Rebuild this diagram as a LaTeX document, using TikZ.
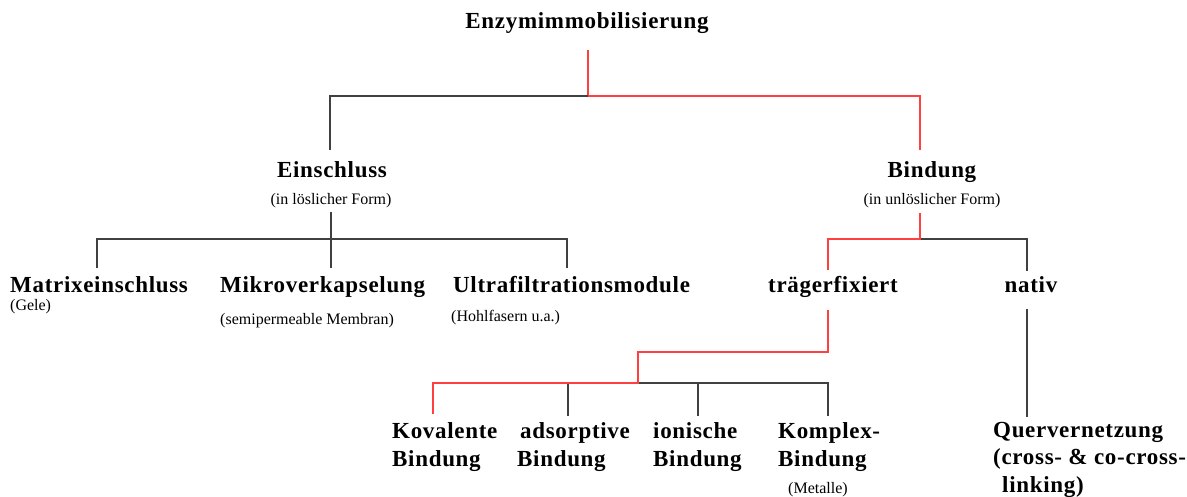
\documentclass[tikz,border=0pt]{standalone}
\usepackage{fontspec}
\setmainfont{Liberation Serif}
\newfontfamily\lblfont[LetterSpace=3]{Liberation Serif}
\usepackage{xcolor}
\usepackage{tikz}

\definecolor{linered}{HTML}{FF4040}
\definecolor{linegray}{HTML}{404040}

\tikzset{
    lbl/.style={inner sep=0pt, font=\lblfont\bfseries\fontsize{23}{27.5}\selectfont},
    sub/.style={inner sep=0pt, font=\fontsize{16}{18}\selectfont},
    rline/.style={draw=linered, line width=1.3pt},
    bline/.style={draw=linegray, line width=1.3pt}
}

\begin{document}
\begin{tikzpicture}[x=1pt, y=-1pt]
    \useasboundingbox[fill=white] (0,0) rectangle (1187,497);

    \node[lbl, anchor=base] (root) at (587,29) {Enzymimmobilisierung};

    \node[lbl, anchor=base] (ein) at (332,178) {Einschluss};
    \node[sub, anchor=base] (ein-s) at (331,205) {(in löslicher Form)};
    \node[lbl, anchor=base] (bin) at (932,178) {Bindung};
    \node[sub, anchor=base] (bin-s) at (932,205) {(in unlöslicher Form)};

    \node[lbl, anchor=base west] (mat) at (10,293) {Matrixeinschluss};
    \node[sub, anchor=base west] (mat-s) at (10,311) {(Gele)};
    \node[lbl, anchor=base west] (mik) at (220,293) {Mikroverkapselung};
    \node[sub, anchor=base west] (mik-s) at (220,325) {(semipermeable Membran)};
    \node[lbl, anchor=base west] (ult) at (453,293) {Ultrafiltrationsmodule};
    \node[sub, anchor=base west] (ult-s) at (451,322) {(Hohlfasern u.a.)};
    \node[lbl, anchor=base] (trae) at (833,293) {trägerfixiert};
    \node[lbl, anchor=base] (nat) at (1031,293) {nativ};

    % multi-line labels sit on their last baseline
    \node[lbl, anchor=base west, align=left] (kov) at (392,466) {Kovalente\\Bindung};
    \node[lbl, anchor=base west, align=left] (ads) at (517,466) {\hspace*{3pt}adsorptive\\Bindung};
    \node[lbl, anchor=base west, align=left] (ion) at (653,466) {ionische\\Bindung};
    \node[lbl, anchor=base west, align=left] (kom) at (778,466) {Komplex-\\Bindung};
    \node[sub, anchor=base] (kom-s) at (818,493) {(Metalle)};
    \node[lbl, anchor=base west, align=left] (que) at (993,492) {Quervernetzung\\(cross- \& co-cross-\\\hspace*{9pt}linking)};

    % first level
    \coordinate (top) at (588,50);
    \coordinate (j0) at (588,96);
    \coordinate (e0) at (330,150);
    \coordinate (b0) at (920,150);
    \draw[rline] (top) -- (j0);
    \draw[bline] (j0) -| (e0);
    \draw[rline] (j0) -| (b0);

    % Einschluss
    \coordinate (e1) at (331,212);
    \coordinate (j1) at (331,239);
    \coordinate (mat0) at (97,268);
    \coordinate (mik0) at (331,268);
    \coordinate (ult0) at (567,268);
    \draw[bline] (e1) -- (mik0);
    \draw[bline] (mat0) -- (mat0 |- j1) -- (ult0 |- j1) -- (ult0);

    % Bindung
    \coordinate (b1) at (920,213);
    \coordinate (j2) at (920,239);
    \coordinate (tr0) at (828,270);
    \coordinate (na0) at (1027,271);
    \draw[bline] (j2) -| (na0);
    \draw[rline] (b1) -- (j2) -| (tr0);

    % traegerfixiert
    \coordinate (tr1) at (828,310);
    \coordinate (j3) at (638,352);
    \coordinate (j4) at (638,383);
    \coordinate (kov0) at (433,414);
    \coordinate (ads0) at (568,416);
    \coordinate (ion0) at (698,416);
    \coordinate (kom0) at (828,416);
    \draw[bline] (j4) -| (kom0);
    \draw[bline] (ads0 |- j4) -- (ads0);
    \draw[bline] (ion0 |- j4) -- (ion0);
    \draw[rline] (tr1) |- (j3) -- (j4) -| (kov0);

    % nativ
    \coordinate (na1) at (1027,309);
    \coordinate (qu0) at (1027,417);
    \draw[bline] (na1) -- (qu0);
\end{tikzpicture}
\end{document}
